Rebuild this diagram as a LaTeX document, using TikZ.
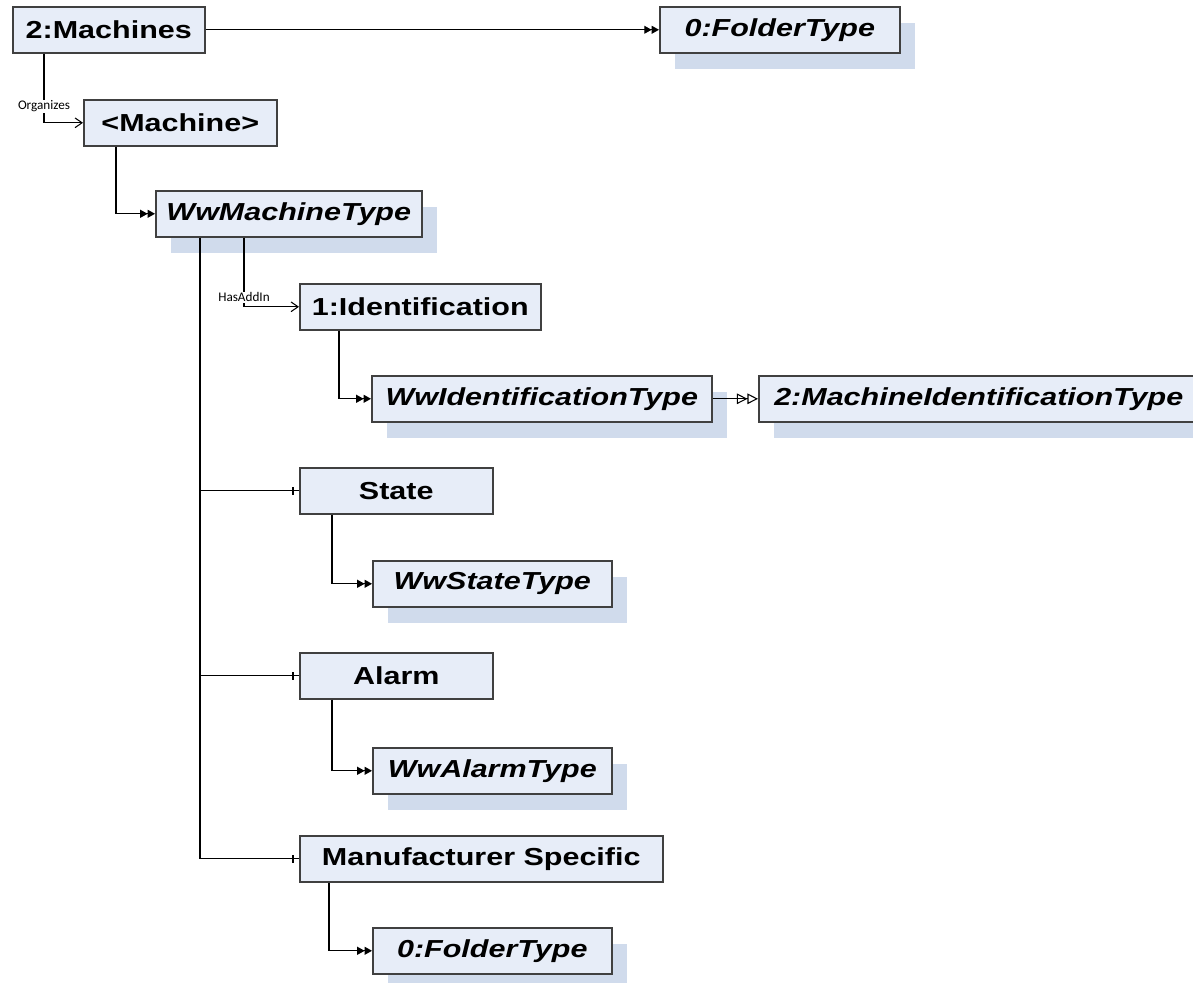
\documentclass[tikz,border=0pt]{standalone}
\usepackage{fontspec}
\setmainfont{Liberation Sans}
\newfontfamily\boxfont[FakeStretch=1.24]{Liberation Sans}
\newfontfamily\lblfont{Carlito}
\usepackage{tikz}
\usetikzlibrary{arrows.meta,positioning,calc,shadows,decorations.markings}
\definecolor{boxfill}{RGB}{231,237,248}
\definecolor{boxshade}{RGB}{208,219,236}
\definecolor{boxline}{RGB}{64,64,64}

\begin{document}
\begin{tikzpicture}[x=0.02cm,y=-0.02cm,
  inst/.style={draw=boxline,line width=0.9pt,fill=boxfill,minimum height=0.92cm,
    anchor=north west,inner sep=0pt,font=\boxfont\fontsize{14}{16}\selectfont\bfseries},
  typ/.style={inst,font=\boxfont\fontsize{14}{16}\selectfont\bfseries\itshape,
    general shadow={fill=boxshade,shadow xshift=0.3cm,shadow yshift=-0.32cm}},
  lbl/.style={fill=white,inner sep=0.5pt,font=\lblfont\fontsize{7.5}{9}\selectfont},
  dbl/.style={line width=0.6pt,-{Triangle[length=4.2pt,width=4.5pt]Triangle[length=4.2pt,width=4.5pt]}},
  sub/.style={line width=0.6pt,-{Triangle[open,length=6pt,width=6pt]Triangle[open,length=6pt,width=6pt]}},
  ref/.style={line width=0.6pt,-{Straight Barb[length=4pt,width=5.5pt]}},
  comp/.style={line width=0.6pt,postaction={decorate},decoration={markings,
    mark=at position -0.12cm with {\draw[line width=0.6pt] (0pt,-0.08cm) -- (0pt,0.08cm);}}},
  trunk/.style={line width=1.1pt}]

  \useasboundingbox (0,0) rectangle (1193,983);

  % top row
  \node[inst,minimum width=3.84cm] (machines) at (12,6) {2:Machines};
  \node[typ,minimum width=4.8cm] (folderTop) at (659,6) {0:FolderType};
  \draw[dbl] (machines.east) -- (folderTop.west);

  % machine instance and its type
  \node[inst,minimum width=3.86cm] (machine) at (83,99) {<Machine>};
  \node[typ,minimum width=5.32cm] (wwmt) at (155,190) {WwMachineType};
  \draw[ref] ([xshift=0.64cm]machines.south west) |- (machine.west)
    node[lbl,pos=0.38] (orgLbl) {Organizes};
  \draw[dbl] ([xshift=0.66cm]machine.south west) |- (wwmt.west);

  % identification add-in
  \node[inst,minimum width=4.82cm] (ident) at (299,283) {1:Identification};
  \node[typ,minimum width=6.8cm] (wwident) at (371,375) {WwIdentificationType};
  \node[typ,minimum width=8.8cm] (mit) at (758,375) {2:MachineIdentificationType};
  \draw[ref] ([xshift=1.78cm]wwmt.south west) |- (ident.west)
    node[lbl,pos=0.43] (addLbl) {HasAddIn};
  \draw[sub] (wwident.east) -- (mit.west);

  % components
  \node[inst,minimum width=3.86cm] (state) at (299,467) {State};
  \node[typ,minimum width=4.78cm] (wwstate) at (372,560) {WwStateType};
  \node[inst,minimum width=3.86cm] (alarm) at (299,652) {Alarm};
  \node[typ,minimum width=4.78cm] (wwalarm) at (372,747) {WwAlarmType};
  \node[inst,minimum width=7.26cm] (manspec) at (299,835) {Manufacturer Specific};
  \node[typ,minimum width=4.78cm] (folderBot) at (372,927) {0:FolderType};

  \coordinate (trunkend) at ([xshift=0.9cm]wwmt.south west |- manspec.west);
  \draw[trunk] ([xshift=0.9cm]wwmt.south west) -- (trunkend);
  \foreach \n in {state,alarm,manspec}
    \draw[comp] (trunkend |- \n.west) -- (\n.west);

  \foreach \a/\b/\dx in {ident/wwident/0.8cm, state/wwstate/0.66cm,
      alarm/wwalarm/0.66cm, manspec/folderBot/0.6cm}
    \draw[dbl] ([xshift=\dx]\a.south west) |- (\b.west);

\end{tikzpicture}
\end{document}
